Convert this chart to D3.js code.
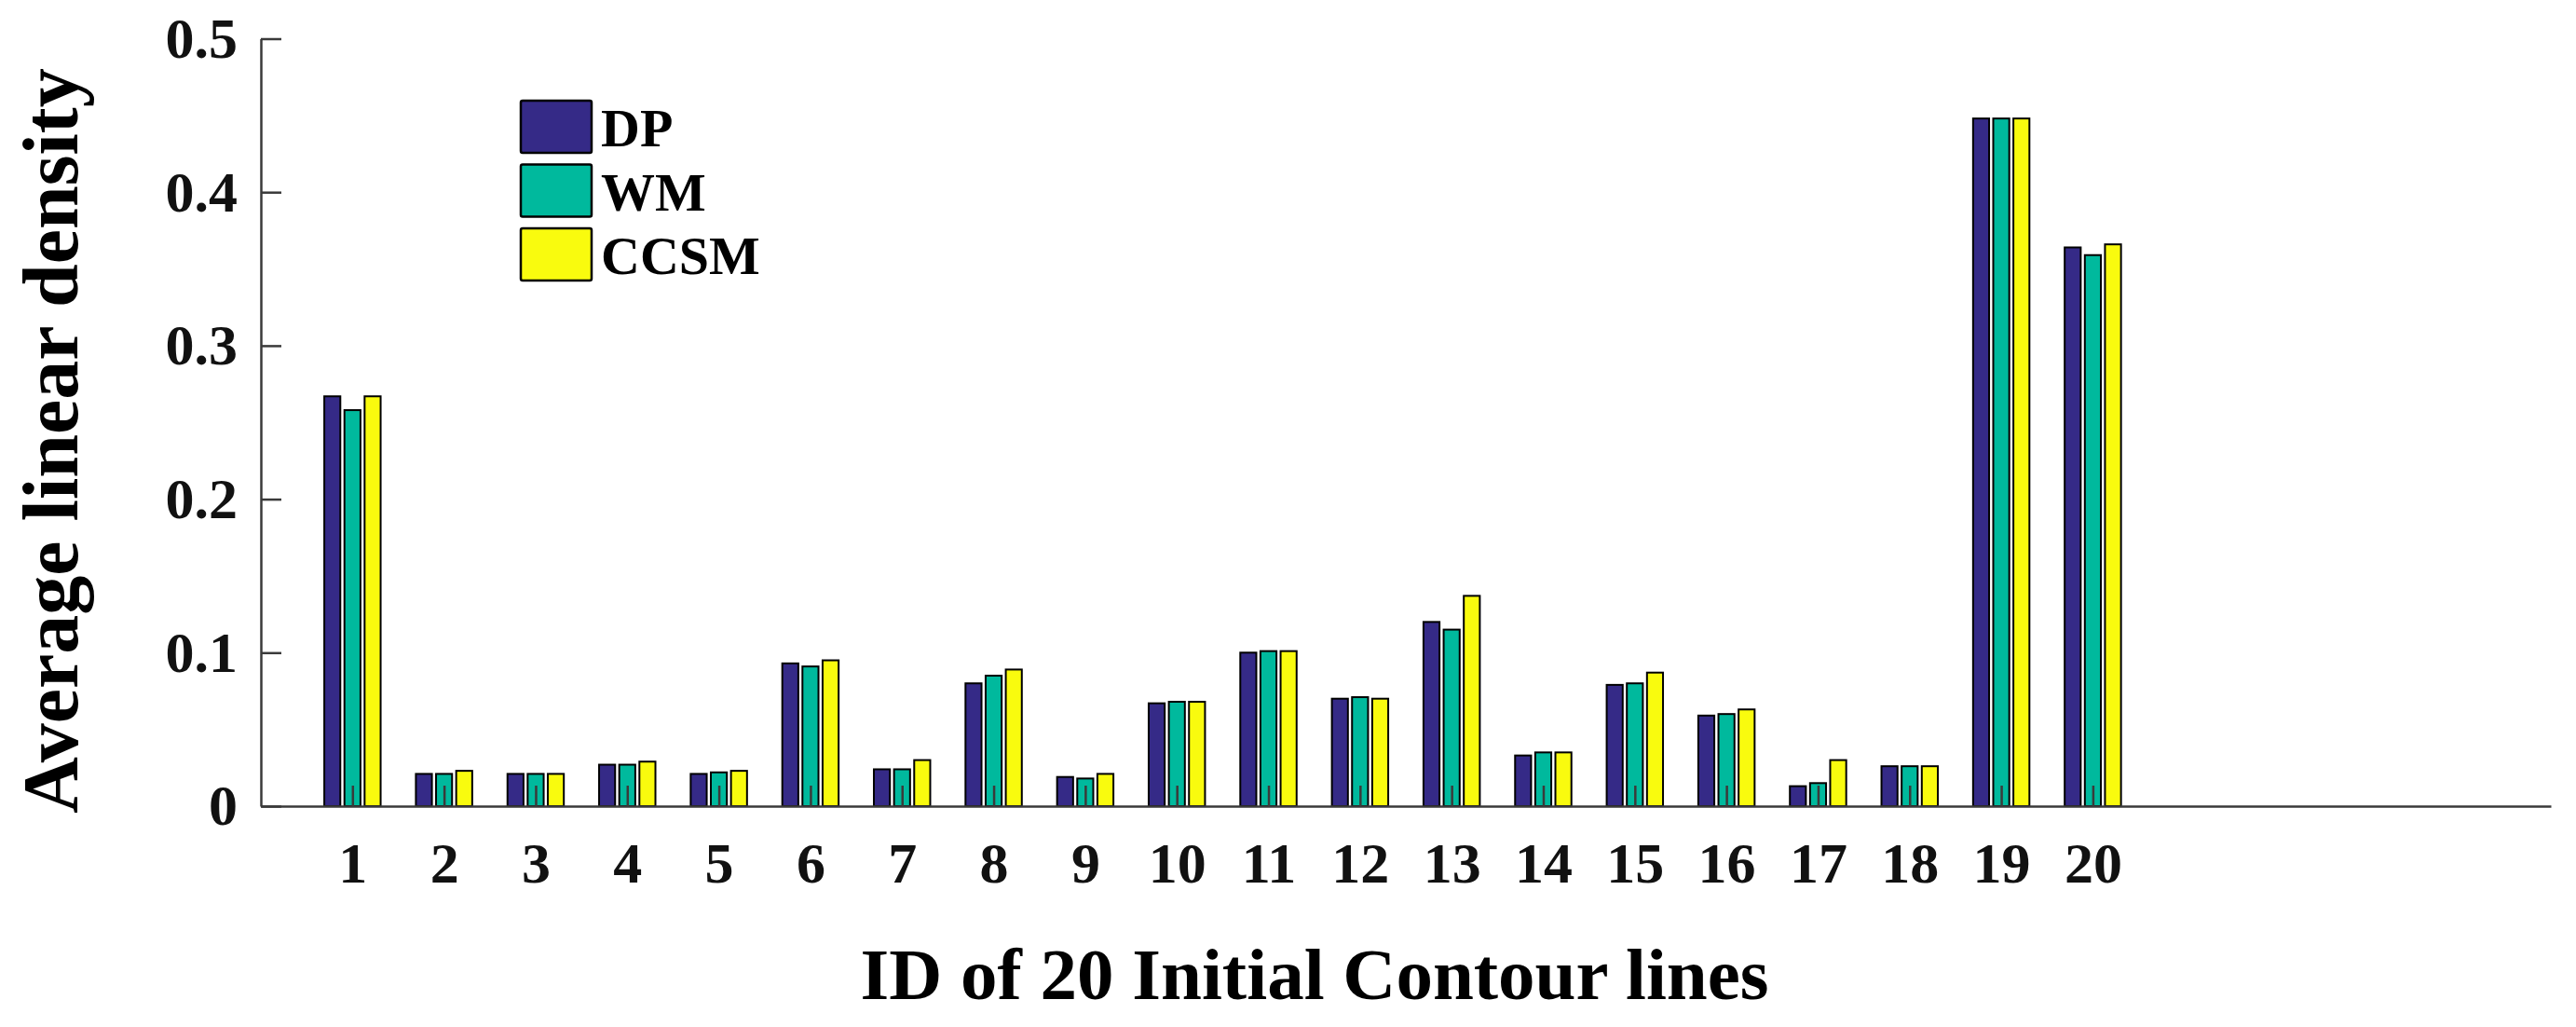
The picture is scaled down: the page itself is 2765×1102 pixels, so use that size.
<!DOCTYPE html>
<html>
<head>
<meta charset="utf-8">
<script src="https://cdn.jsdelivr.net/npm/d3@7"></script>
<style>
  body { margin: 0; background: #fff; }
  text { font-family: "Liberation Serif", "Times New Roman", serif; font-weight: bold; }
</style>
</head>
<body>
<svg id="chart" width="2765" height="1102"></svg>
<script>
// contour line ids and the three methods
const ids = d3.range(1, 21);
const series = ["DP", "WM", "CCSM"];
const colors = ["#352a87", "#00b99d", "#f9fb0e"];

// average linear density
const dp   = [0.267, 0.021, 0.021, 0.027, 0.021, 0.093, 0.024, 0.080, 0.019, 0.067,
              0.100, 0.070, 0.120, 0.033, 0.079, 0.059, 0.013, 0.026, 0.448, 0.364];
const wm   = [0.258, 0.021, 0.021, 0.027, 0.022, 0.091, 0.024, 0.085, 0.018, 0.068,
              0.101, 0.071, 0.115, 0.035, 0.080, 0.060, 0.015, 0.026, 0.448, 0.359];
const ccsm = [0.267, 0.023, 0.021, 0.029, 0.023, 0.095, 0.030, 0.089, 0.021, 0.068,
              0.101, 0.070, 0.137, 0.035, 0.087, 0.063, 0.030, 0.026, 0.448, 0.366];

const yTicks = [0, 0.1, 0.2, 0.3, 0.4, 0.5];
const yTickLabels = ["0", "0.1", "0.2", "0.3", "0.4", "0.5"];

const values = [dp, wm, ccsm];

let svg = d3.select("#chart");

// scales (x in units of contour id, like matlab's xlim [0 25])
let xScale = d3.scaleLinear().domain([0, 25]).range([280, 2738]);
let yScale = d3.scaleLinear().domain([0, 0.5]).range([865, 41.5]);

// grouped bar layout: slot pitch and bar width in x units
const slot = 0.22;
const barW = 0.175;

let bars = svg.append("g");
series.forEach(function (s, j) {
  bars.selectAll("rect.s" + j)
    .data(values[j])
    .enter()
    .append("rect")
    .attr("class", "s" + j)
    .attr("x", (d, i) => xScale(ids[i] + (j - 1) * slot - barW / 2))
    .attr("width", xScale(barW) - xScale(0))
    .attr("y", d => yScale(d))
    .attr("height", d => yScale(0) - yScale(d))
    .attr("fill", colors[j])
    .attr("stroke", "#000")
    .attr("stroke-width", 2);
});

// axes (ticks point inwards, drawn on top of bars)
let xAxis = svg.append("g")
  .attr("transform", "translate(0," + yScale(0) + ")")
  .call(d3.axisBottom(xScale)
    .tickValues(ids)
    .tickFormat(d3.format("d"))
    .tickSizeInner(-22)
    .tickSizeOuter(0)
    .tickPadding(38));

let yAxis = svg.append("g")
  .attr("transform", "translate(" + xScale(0) + ",0)")
  .call(d3.axisLeft(yScale)
    .tickValues(yTicks)
    .tickFormat((d, i) => yTickLabels[i])
    .tickSizeInner(-22)
    .tickSizeOuter(0)
    .tickPadding(25));

[xAxis, yAxis].forEach(function (ax) {
  ax.select(".domain").attr("stroke", "#3a3a3a").attr("stroke-width", 2.5);
  ax.selectAll(".tick line").attr("stroke", "#3a3a3a").attr("stroke-width", 2.5);
  ax.selectAll(".tick text")
    .attr("fill", "#111")
    .style("font-size", "62px")
    .style("font-family", "'Liberation Serif', 'Times New Roman', serif")
    .style("font-weight", "bold");
});

// axis titles
svg.append("text")
  .attr("transform", "translate(83,473) rotate(-90)")
  .attr("text-anchor", "middle")
  .style("font-size", "84px")
  .text("Average linear density");

svg.append("text")
  .attr("x", 1411)
  .attr("y", 1072)
  .attr("text-anchor", "middle")
  .style("font-size", "79px")
  .text("ID of 20 Initial Contour lines");

// legend
let legend = svg.append("g").attr("transform", "translate(559,108)");
series.forEach(function (s, j) {
  let row = legend.append("g").attr("transform", "translate(0," + (j * 68.5) + ")");
  row.append("rect")
    .attr("width", 76)
    .attr("height", 56)
    .attr("rx", 2)
    .attr("fill", colors[j])
    .attr("stroke", "#000")
    .attr("stroke-width", 2.5);
  row.append("text")
    .attr("x", 86)
    .attr("y", 49)
    .style("font-size", "58px")
    .text(s);
});
</script>
</body>
</html>
